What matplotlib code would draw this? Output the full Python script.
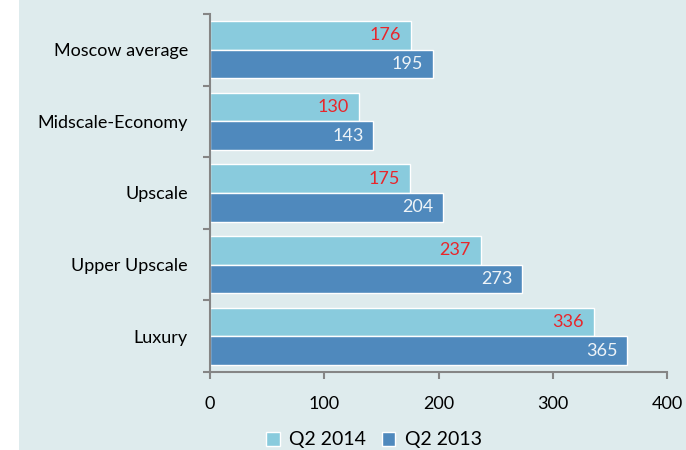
import numpy as np
import matplotlib.pyplot as plt
from matplotlib.patches import Rectangle

categories = ["Luxury", "Upper Upscale", "Upscale", "Midscale-Economy", "Moscow average"]
q2_2014 = [336, 237, 175, 130, 176]
q2_2013 = [365, 273, 204, 143, 195]

light = "#89cbdd"
dark = "#4f89bd"
bg = "#deebed"
grey = "#858585"

plt.rcParams["font.family"] = ["Lato", "DejaVu Sans"]

fig = plt.figure(figsize=(6.86, 4.5), dpi=100)
fig.patch.set_facecolor("white")
fig.add_artist(Rectangle((19 / 686, 0), 1, 1, transform=fig.transFigure,
                         facecolor=bg, edgecolor="none", zorder=-10))

ax = fig.add_axes([210 / 686, 1 - 372 / 450, 457 / 686, 358 / 450])
ax.set_facecolor("none")

y = np.arange(len(categories))
h = 0.4
b1 = ax.barh(y + h / 2, q2_2014, height=h, color=light, edgecolor="white",
             linewidth=1, label="Q2 2014")
b2 = ax.barh(y - h / 2, q2_2013, height=h, color=dark, edgecolor="white",
             linewidth=1, label="Q2 2013")

for bar, v in zip(b1, q2_2014):
    ax.annotate(str(v), (v, bar.get_y() + bar.get_height() / 2),
                xytext=(-7, 0), textcoords="offset points",
                ha="right", va="center", color="#e8262b", fontsize=13)
for bar, v in zip(b2, q2_2013):
    ax.annotate(str(v), (v, bar.get_y() + bar.get_height() / 2),
                xytext=(-7, 0), textcoords="offset points",
                ha="right", va="center", color="#eef4f8", fontsize=13)

ax.set_xlim(0, 400)
ax.set_ylim(-0.5, len(categories) - 0.5)
ax.set_xticks([0, 100, 200, 300, 400])
ax.set_yticks(y)
ax.set_yticklabels(categories)
ax.set_yticks(np.arange(-0.5, len(categories)), minor=True)

for s in ["top", "right"]:
    ax.spines[s].set_visible(False)
for s in ["left", "bottom"]:
    ax.spines[s].set_color(grey)
    ax.spines[s].set_linewidth(1.5)

ax.tick_params(axis="y", which="major", length=0, pad=16, labelsize=13)
ax.tick_params(axis="y", which="minor", length=5, width=1.5, color=grey)
ax.tick_params(axis="x", length=5, width=1.5, color=grey, pad=12, labelsize=13)

ax.legend(loc="center", bbox_to_anchor=(374 / 686, 1 - 440 / 450),
          bbox_transform=fig.transFigure, ncol=2, frameon=False,
          fontsize=14, handlelength=0.7, handleheight=0.7,
          handletextpad=0.5, columnspacing=0.8)

fig.savefig("out.png", dpi=100)
